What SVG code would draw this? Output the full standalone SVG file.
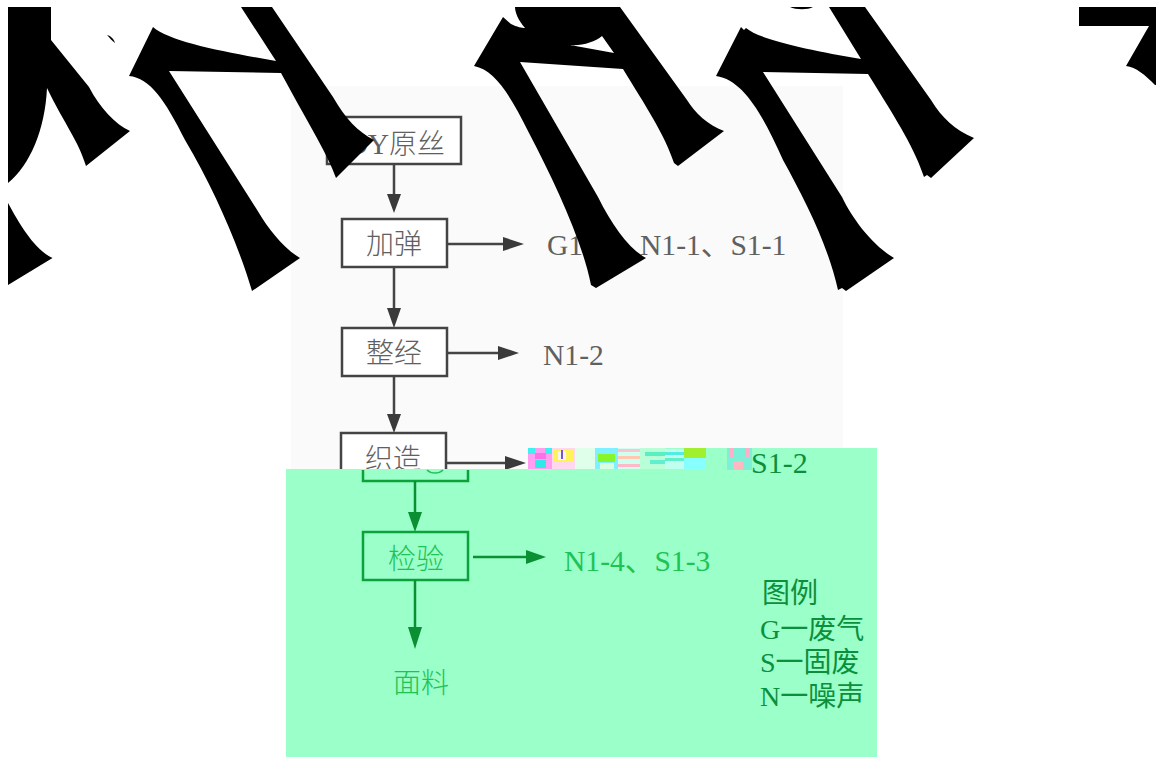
<svg xmlns="http://www.w3.org/2000/svg" width="1156" height="758" viewBox="0 0 1156 758">
<defs>
<style>
text{font-family:"Liberation Serif","Noto Sans CJK SC",serif;font-size:29.6px;fill:#606060}
.cn{font-family:"Noto Sans CJK SC",sans-serif;font-weight:300;font-size:28px;text-anchor:middle}
.box{fill:#fff;stroke:#444;stroke-width:2.5}
.gbox{fill:none;stroke:#0ba23c;stroke-width:2.5}
.ln{stroke:#444;stroke-width:2.5;fill:none}
.gln{stroke:#0a8f33;stroke-width:2.5;fill:none}
.ah{fill:#3a3a3a}
.gah{fill:#0a8f33}
.g{fill:#1fc255}
.dg{fill:#0c8f3c;font-family:"Liberation Serif","Noto Sans CJK SC",serif;font-size:28px}
.blk{fill:#000}
</style>
</defs>
<rect width="1156" height="758" fill="#fff"/>
<rect x="291" y="86" width="552" height="384" fill="#fafafa"/>

<g id="connectors-upper">
<path class="ln" d="M394 164V198M394 267V312M394 376V418M447 244H505M447 353H500M446 463H507"/>
<path class="ah" d="M387 194H401L394 213ZM387 308H401L394 328ZM387 414H401L394 433ZM503 237V251L524 244ZM498 346V360L519 353ZM505 456V470L526 463Z"/>
</g>

<g id="node-yarn"><rect class="box" x="327" y="117" width="134" height="47"/><text x="330" y="154">POY</text><text class="cn" x="417" y="154">原丝</text></g>
<g id="node-texturing"><rect class="box" x="342" y="219" width="105" height="48"/><text class="cn" x="394" y="254">加弹</text></g>
<g id="node-warping"><rect class="box" x="342" y="328" width="105" height="48"/><text class="cn" x="394" y="363">整经</text></g>
<g id="node-weaving"><rect class="box" x="341" y="433" width="105" height="48"/><text class="cn" x="393" y="469">织造</text></g>

<g id="label-g1"><text x="547" y="255">G1</text><text x="640" y="255">N1-1、S1-1</text></g>
<g id="label-n12"><text x="543" y="365">N1-2</text></g>

<rect x="528" y="448" width="349" height="22" fill="#9affc8"/>
<rect x="286" y="469" width="591" height="288" fill="#9affc8"/>

<g id="noise">
<rect x="528" y="448" width="24" height="21" fill="#ff9df0"/><rect x="528" y="448" width="7" height="6" fill="#3ff0f0"/><rect x="545" y="448" width="7" height="6" fill="#3ff0f0"/><rect x="535" y="453" width="11" height="6" fill="#ff70e8"/><rect x="535" y="460" width="11" height="8" fill="#2fe8e8"/>
<rect x="552" y="448" width="23" height="21" fill="#ffd8f0"/><rect x="553" y="449" width="21" height="13" fill="#fff35a"/><rect x="558" y="451" width="8" height="9" fill="#f4f4ff"/><rect x="561" y="450" width="2" height="9" fill="#7a55d0"/>
<rect x="575" y="448" width="20" height="21" fill="#e0ffea"/>
<rect x="595" y="448" width="23" height="21" fill="#7ff0ff"/><rect x="598" y="454" width="17" height="8" fill="#88f52a"/><rect x="600" y="463" width="14" height="6" fill="#d8ffe0"/>
<rect x="618" y="448" width="22" height="21" fill="#d0fff0"/><rect x="618" y="449" width="22" height="3" fill="#ffc0d0"/><rect x="618" y="456" width="22" height="3" fill="#ffc8b0"/><rect x="618" y="464" width="22" height="3" fill="#ffb8c8"/>
<rect x="640" y="448" width="25" height="21" fill="#b8ffd8"/><rect x="645" y="452" width="20" height="4" fill="#58f0c0"/><rect x="650" y="460" width="15" height="4" fill="#60f0d0"/>
<rect x="665" y="449" width="19" height="20" fill="#c0fff0"/><rect x="665" y="452" width="19" height="3" fill="#50eee0"/><rect x="665" y="458" width="19" height="3" fill="#60f0c8"/>
<rect x="684" y="448" width="22" height="10" fill="#a0f030"/><rect x="684" y="458" width="22" height="11" fill="#88ffff"/>
<rect x="727" y="448" width="25" height="22" fill="#7ff0d8"/><rect x="729" y="448" width="4" height="10" fill="#ffb0c8"/><rect x="745" y="448" width="4" height="10" fill="#ffb0c8"/><rect x="733" y="461" width="10" height="9" fill="#ffb8c0"/>
</g>
<g id="label-s12"><text class="dg" x="751" y="473" style="font-size:30px">S1-2</text></g>

<g id="node-green-upper"><path class="gbox" d="M363 470V481H468V470"/><path d="M427 470C431 474 439 474 443 470" fill="none" stroke="#25c25c" stroke-width="1.5"/></g>
<g id="node-inspection"><rect class="gbox" x="363" y="532" width="105" height="48"/><text class="cn g" x="416" y="569">检验</text></g>

<g id="connectors-lower">
<path class="gln" d="M415 481V516M415 580V630M473 557H528"/>
<path class="gah" d="M408 512H422L415 532ZM408 627H422L415 649ZM526 550V564L546 557Z"/>
</g>

<g id="label-n14"><text class="g" x="564" y="571">N1-4、S1-3</text></g>
<g id="node-fabric"><text class="cn g" x="421" y="693">面料</text></g>
<g id="legend">
<text class="dg" x="762" y="603">图例</text>
<text class="dg" x="760" y="639">G一废气</text>
<text class="dg" x="760" y="672">S一固废</text>
<text class="dg" x="760" y="706">N一噪声</text>
</g>

<g id="black-shapes">
<path class="blk" d="M8 7H51V40L89 87C100 108 115 124 130 131L86 166C78 140 65 125 47 88C45 130 30 165 8 183Z"/>
<path class="blk" d="M8 203C20 225 35 250 52.5 258L8 285Z"/>
<path class="blk" d="M107 35C111 36 114 39 115 43C112 41 110 38 107 35Z"/>
<path class="blk" d="M129 76L153 27C170 42 225 52 276 61L241 7H272L333 97C345 118 358 132 374 140L336 178C328 155 312 130 281 73L169 71L259 213C268 228 283 248 300 258L252 291C240 250 215 190 185 140C165 100 150 78 129 76Z"/>
<path class="blk" fill-rule="evenodd" d="M474 66L503 17L511 24C517 27 522 28 525 28C518 20 515 12 515 7H620L687 100C695 113 708 125 724 131L678 166L674 163C665 135 645 105 623 69L520 62L598 197C612 225 628 248 646 258L596 288L591 285C582 240 555 183 529 133C510 95 495 70 474 66ZM570 45C582 46 595 42 602 36L614 53Z"/>
<path class="blk" d="M716 76L741 27L744 30L746 28C760 40 810 50 861 59L829 7H865L931 100C942 118 955 130 974 138L931 178L927 175L924 177C915 150 900 125 868 74L763 72L842 197C852 218 872 245 894 258L846 291L842 288L838 290C828 245 805 200 783 160C765 120 745 80 716 76Z"/>
<path class="blk" d="M790 7H813C808 10 796 10 790 7Z"/>
<path class="blk" d="M1079 7H1156V85H1155C1145 75 1136 67 1126 66L1149 26H1079Z"/>
</g>
</svg>
